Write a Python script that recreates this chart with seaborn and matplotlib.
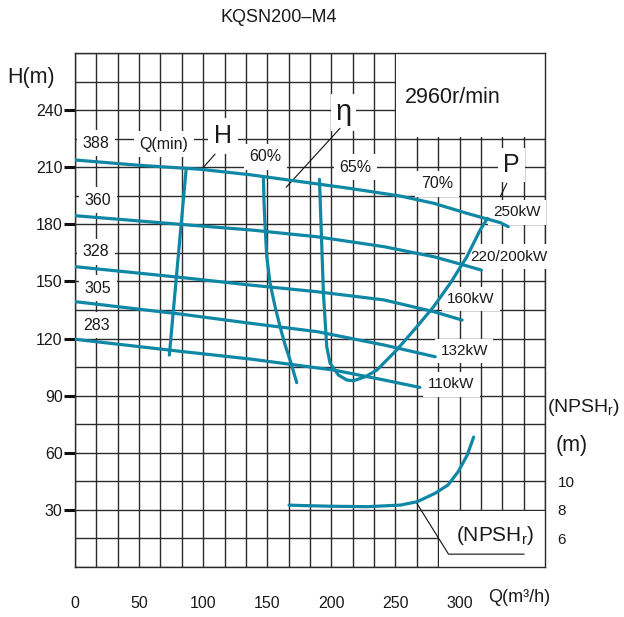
import numpy as np
import pandas as pd
import matplotlib
matplotlib.use("Agg")
import matplotlib.pyplot as plt
from matplotlib.patches import Rectangle
import seaborn as sns

# H-Q curves for each impeller diameter
diameters = ["388", "360", "328", "305", "283"]
q_388 = [0, 48, 98, 137, 176, 215, 254, 280, 306, 332, 338]
h_388 = [213.9, 211.2, 209.0, 206.1, 202.5, 198.9, 194.9, 191.1, 185.8, 180.9, 178.8]
q_360 = [0, 83, 137, 189, 241, 280, 303, 317]
h_360 = [184.6, 180.0, 177.1, 173.5, 168.3, 163.0, 158.7, 156.0]
q_328 = [0, 83, 137, 189, 241, 280, 302]
h_328 = [157.8, 152.1, 148.1, 144.6, 140.3, 134.1, 129.7]
q_305 = [0, 83, 137, 189, 241, 281]
h_305 = [139.4, 132.8, 128.0, 123.6, 116.6, 110.4]
q_283 = [0, 83, 137, 202, 241, 269]
h_283 = [119.6, 113.2, 109.2, 103.4, 98.2, 94.3]

# efficiency / minimum-flow lines
q_min = [86.6, 73.6]
h_min = [208.3, 111.3]
q_eff60 = [147, 147.5, 148.3, 149.6, 152.2, 156.1, 160, 163.9, 167.8, 173]
h_eff60 = [204.3, 191.1, 178.8, 163.0, 149.0, 136.7, 126.2, 116.6, 108.7, 96.8]
q_eff65 = [190.7, 192, 193.8, 196.4, 199, 205.5, 212, 217.2, 226.5, 235.5, 251,
           266.7, 279.7, 292.7, 305.7, 316.1, 321.8]
h_eff65 = [203.7, 178.8, 143.8, 115.7, 107.0, 100.8, 98.2, 97.8, 99.9, 103.4, 114.0,
           126.2, 136.7, 149.0, 163.0, 177.1, 183.2]

# NPSHr curve (m)
q_npsh = [167, 176, 200, 228, 254, 267, 281, 291, 299, 306, 311]
npsh = [8.32, 8.29, 8.24, 8.21, 8.32, 8.56, 9.15, 9.73, 10.67, 11.83, 13.09]

x_ticks = [0, 50, 100, 150, 200, 250, 300]
y_ticks = [30, 60, 90, 120, 150, 180, 210, 240]
npsh_ticks = [6, 8, 10]
power_labels = ["250kW", "220/200kW", "160kW", "132kW", "110kW"]
eff_labels = ["60%", "65%", "70%"]

teal = "#0f87a5"
gridc = "#2b2b2b"

sns.set_style("white")
plt.rcParams["font.family"] = ["Liberation Sans", "DejaVu Sans"]
plt.rcParams["mathtext.fontset"] = "custom"
plt.rcParams["mathtext.rm"] = "Liberation Sans"

fig = plt.figure(figsize=(6.24, 6.17), dpi=100)
ax = fig.add_axes([75 / 624, 1 - 566.7 / 617, 470 / 624, 513.4 / 617])

# H curves
frames = []
for d, q, h in zip(diameters, [q_388, q_360, q_328, q_305, q_283],
                   [h_388, h_360, h_328, h_305, h_283]):
    frames.append(pd.DataFrame({"Q": q, "H": h, "D": d}))
df_h = pd.concat(frames, ignore_index=True)
sns.lineplot(data=df_h, x="Q", y="H", hue="D", palette={d: teal for d in diameters},
             sort=False, estimator=None, legend=False, lw=2.3, ax=ax, zorder=4)

# efficiency lines
df_e = pd.concat([
    pd.DataFrame({"Q": q_min, "H": h_min, "c": "min"}),
    pd.DataFrame({"Q": q_eff60, "H": h_eff60, "c": "60"}),
    pd.DataFrame({"Q": q_eff65, "H": h_eff65, "c": "65"}),
], ignore_index=True)
sns.lineplot(data=df_e, x="Q", y="H", hue="c", palette={"min": teal, "60": teal, "65": teal},
             sort=False, estimator=None, legend=False, lw=2.3, ax=ax, zorder=4)

ax.set_xlim(0, 1100 / 3)
ax.set_ylim(0, 270)
ax.set_xticks(x_ticks)
ax.set_xticks(np.arange(0, 367, 50 / 3), minor=True)
ax.set_yticks(y_ticks)
ax.set_yticks(np.arange(0, 271, 15), minor=True)
ax.set_axisbelow(True)
ax.grid(True, which="both", color=gridc, lw=1.0)
for s in ax.spines.values():
    s.set_color(gridc)
    s.set_linewidth(1.0)
ax.tick_params(axis="x", which="major", length=11, width=1.2, pad=10,
               labelsize=11.5, color="#111111", labelcolor="#1a1a1a", direction="out")
ax.tick_params(axis="y", which="major", length=8, width=2.2, pad=1,
               labelsize=11.5, color="#111111", labelcolor="#1a1a1a", direction="out")
ax.tick_params(which="minor", length=0)
ax.set_xlabel("")
ax.set_ylabel("")

# blank boxes in the grid
ax.add_patch(Rectangle((250.8, 225.8), 120, 50, fc="white", ec="none", zorder=1))
ax.add_patch(Rectangle((284.1, -1), 90, 30.4, fc="white", ec="none", zorder=1))

box = dict(boxstyle="square,pad=0.35", fc="white", ec="none")
tk = dict(zorder=3, ha="center", va="center", color="#1a1a1a")

for d, (x, y) in zip(diameters, [(16.2, 222.7), (17.9, 192.8), (16.2, 165.7),
                                 (17.7, 146.4), (16.9, 127.1)]):
    ax.text(x, y, d, fontsize=11.5, bbox=box, **tk)
ax.text(69.5, 222.3, "Q(min)", fontsize=11.5, bbox=box, **tk)
ax.text(115.5, 226.5, "H", fontsize=18, bbox=dict(boxstyle="square,pad=0.25", fc="white", ec="none"), **tk)
for lab, (x, y) in zip(eff_labels, [(148.5, 215.6), (219, 210), (282.5, 201.3)]):
    ax.text(x, y, lab, fontsize=11.5, bbox=box, **tk)
ax.text(209.8, 239.0, "η", fontsize=21, bbox=dict(boxstyle="square,pad=0.15", fc="white", ec="none"), **tk)
ax.text(340.3, 211.3, "P", fontsize=18, bbox=dict(boxstyle="square,pad=0.2", fc="white", ec="none"), **tk)
for lab, (x, y) in zip(power_labels, [(344.7, 186.3), (338.7, 163.1), (309, 140.8),
                                      (303.6, 113.4), (293.5, 96)]):
    ax.text(x, y, lab, fontsize=11, bbox=box, **tk)
ax.text(294.6, 246.8, "2960r/min", fontsize=15.5, **tk)
ax.text(327.8, 16.6, "(NPSH$_\\mathrm{r}$)", fontsize=15, **tk)

# leader lines
lk = dict(color="#111111", lw=0.8, zorder=3.5)
ax.plot([109.3, 100.1], [217, 210], **lk)
ax.plot([206.8, 164.7], [230.6, 199.5], **lk)
ax.plot([336.9, 331.7], [201.6, 194.6], **lk)
ax.plot([266.7, 291.4, 350.4], [33.3, 6.6, 6.6], **lk)

# NPSHr on its own scale
ax2 = ax.twinx()
sns.lineplot(x=q_npsh, y=npsh, sort=False, estimator=None, color=teal, lw=2.3, ax=ax2)
ax2.set_ylim(4, 40)
ax2.set_yticks(npsh_ticks)
ax2.tick_params(axis="y", length=0, pad=9, labelsize=11, labelcolor="#1a1a1a")
for s in ax2.spines.values():
    s.set_visible(False)
ax2.grid(False)
ax2.set_ylabel("")

# outside texts
def ftext(px, py, s, **kw):
    fig.text(px / 624, 1 - py / 617, s, ha="center", va="center", color="#1a1a1a", **kw)

ftext(279, 18, "KQSN200–M4", fontsize=13)
ftext(31, 77, "H(m)", fontsize=15.5)
ftext(584, 408, "(NPSH$_\\mathrm{r}$)", fontsize=14)
ftext(571.7, 445, "(m)", fontsize=15.5)
ftext(519, 597, "Q(m³/h)", fontsize=13)

fig.savefig("out.png", dpi=100)
